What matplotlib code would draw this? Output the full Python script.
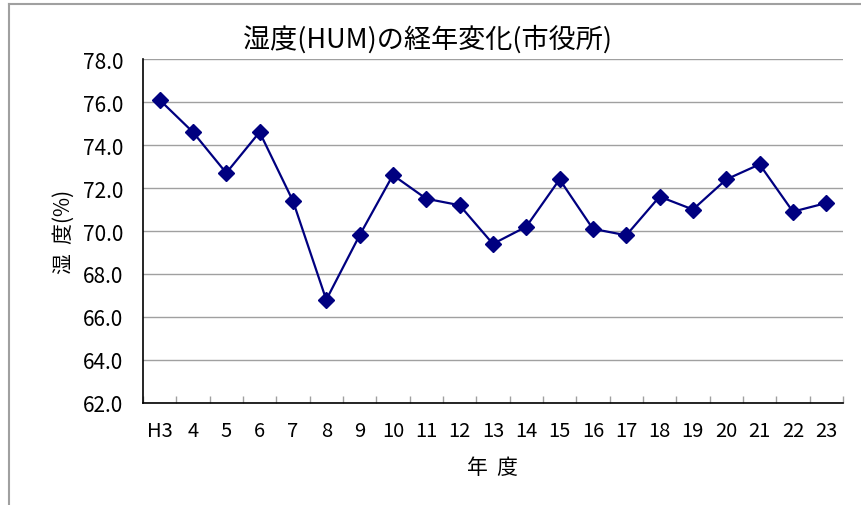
import matplotlib
matplotlib.use("Agg")
import matplotlib.pyplot as plt
from matplotlib.lines import Line2D

plt.rcParams['font.family'] = ['Noto Sans CJK JP', 'DejaVu Sans']

# 年度ごとの湿度 (%)
years = ['H3', '4', '5', '6', '7', '8', '9', '10', '11', '12', '13',
         '14', '15', '16', '17', '18', '19', '20', '21', '22', '23']
humidity = [76.1, 74.6, 72.7, 74.6, 71.4, 66.8, 69.8, 72.6, 71.5, 71.2, 69.4,
            70.2, 72.4, 70.1, 69.8, 71.6, 71.0, 72.4, 73.1, 70.9, 71.3]
y_ticks = [62.0, 64.0, 66.0, 68.0, 70.0, 72.0, 74.0, 76.0, 78.0]

fig = plt.figure(figsize=(8.61, 5.06), dpi=100)
ax = fig.add_axes([0.166, 0.2016, 0.813, 0.6798])

x = list(range(len(years)))
ax.plot(x, humidity, color='#000080', linewidth=1.6, marker='D',
        markersize=8.5, markerfacecolor='#000080', markeredgecolor='#000080',
        clip_on=False, zorder=3)

ax.set_xlim(-0.5, len(years) - 0.5)
ax.set_ylim(62, 78)
ax.set_yticks(y_ticks)
ax.set_yticklabels([f'{v:.1f}' for v in y_ticks], fontsize=15)
ax.set_xticks(x)
ax.set_xticklabels(years, fontsize=14.5)
ax.set_xticks([i + 0.5 for i in range(-1, len(years))], minor=True)

ax.grid(axis='y', color='#a0a0a0', linewidth=1.0)
ax.set_axisbelow(True)
for side in ['top', 'right']:
    ax.spines[side].set_visible(False)
ax.spines['left'].set_linewidth(1.2)
ax.spines['bottom'].set_linewidth(1.2)

ax.tick_params(axis='y', length=0, pad=14)
ax.tick_params(axis='x', which='major', length=0, pad=12)
ax.tick_params(axis='x', which='minor', direction='in', length=5,
               color='#a0a0a0', width=1.0)

ax.set_ylabel('湿  度(%)', fontsize=15, labelpad=6)
ax.set_xlabel('年  度', fontsize=15, labelpad=11)
fig.text(0.497, 0.922, '湿度(HUM)の経年変化(市役所)', ha='center', va='center',
         fontsize=19.5)

# 外枠 (上辺と左辺)
fig.add_artist(Line2D([0.0105, 1.0], [0.990, 0.990], color='#a0a0a0',
                      linewidth=1.5, transform=fig.transFigure))
fig.add_artist(Line2D([0.0105, 0.0105], [0.0, 0.990], color='#a0a0a0',
                      linewidth=1.5, transform=fig.transFigure))

fig.savefig('out.png', dpi=100)
